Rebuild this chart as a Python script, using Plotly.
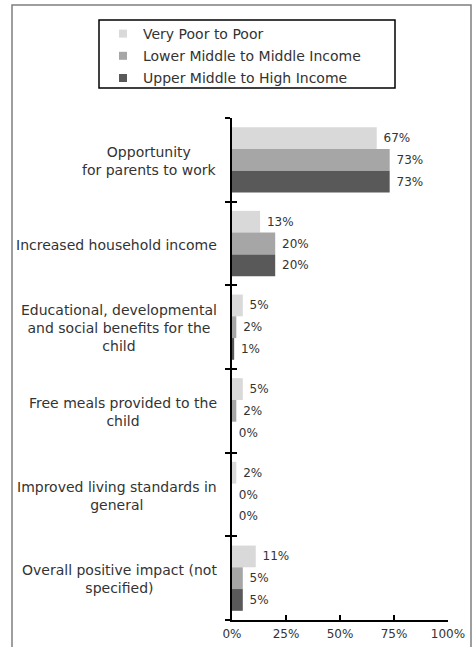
import plotly.graph_objects as go

categories = [
    "Opportunity<br>for parents to work",
    "Increased household income",
    "Educational, developmental<br>and social benefits for the<br>child",
    "Free meals provided to the<br>child",
    "Improved living standards in<br>general",
    "Overall positive impact (not<br>specified)",
]
series_names = ["Very Poor to Poor", "Lower Middle to Middle Income", "Upper Middle to High Income"]
very_poor = [0.67, 0.13, 0.05, 0.05, 0.02, 0.11]
lower_middle = [0.73, 0.20, 0.02, 0.02, 0.00, 0.05]
upper_middle = [0.73, 0.20, 0.01, 0.00, 0.00, 0.05]
x_ticks = [0, 0.25, 0.5, 0.75, 1.0]
x_tick_labels = ["0%", "25%", "50%", "75%", "100%"]

colors = ["#d9d9d9", "#a6a6a6", "#595959"]
FONT = "DejaVu Sans"
TXT = "#333333"

W, H = 475, 647
L, R, T, B = 232, 27, 118, 27
pw, ph = W - L - R, H - T - B

def px_x(p):
    return (p - L) / pw

def px_y(p):
    return (H - B - p) / ph

cat_ids = list(range(len(categories)))

fig = go.Figure()
for name, vals, col in zip(series_names, [very_poor, lower_middle, upper_middle], colors):
    fig.add_trace(go.Bar(
        y=cat_ids, x=vals, orientation="h", name=name,
        marker=dict(color=col, line=dict(width=0)),
        texttemplate=" %{x:.0%}", textposition="outside",
        textfont=dict(family=FONT, size=12, color=TXT),
        cliponaxis=False, showlegend=False,
    ))
    # legend entry with a small square swatch
    fig.add_trace(go.Scatter(
        x=[None], y=[None], mode="markers", name=name,
        marker=dict(symbol="square", size=8, color=col),
        legendgroup=name, showlegend=True, yaxis="y2",
    ))

for i, c in enumerate(categories):
    fig.add_annotation(
        x=0, xref="paper", y=i, yref="y", text=c, showarrow=False,
        xanchor="right", align="center", xshift=-13, yshift=-1,
        font=dict(family=FONT, size=14, color=TXT),
    )

shapes = [
    dict(type="rect", xref="paper", yref="paper",
         x0=px_x(12), x1=px_x(471), y0=px_y(670), y1=px_y(5),
         line=dict(color="#7f7f7f", width=1.5), fillcolor="rgba(0,0,0,0)", layer="below"),
    dict(type="rect", xref="paper", yref="paper",
         x0=px_x(99), x1=px_x(395), y0=px_y(88), y1=px_y(20),
         line=dict(color="#000000", width=1.5), fillcolor="rgba(0,0,0,0)", layer="below"),
]

n = len(categories)
fig.update_layout(
    template="none",
    width=W, height=H,
    margin=dict(l=L, r=R, t=T, b=B, autoexpand=False),
    paper_bgcolor="white", plot_bgcolor="white",
    barmode="group", bargap=0.22, bargroupgap=0,
    font=dict(family=FONT, size=12, color=TXT),
    shapes=shapes,
    showlegend=True,
    legend=dict(
        x=px_x(103), xanchor="left", y=px_y(18), yanchor="top",
        bgcolor="rgba(0,0,0,0)", borderwidth=0,
        font=dict(family=FONT, size=14, color=TXT),
        traceorder="grouped", tracegroupgap=1, itemwidth=30,
    ),
    xaxis=dict(
        range=[0, 1], tickvals=x_ticks, ticktext=x_tick_labels, automargin=False,
        showgrid=False, zeroline=False, showline=True, linecolor="black", linewidth=2,
        ticks="inside", ticklen=5, tickwidth=1.5, tickcolor="black",
        ticklabelstandoff=2,
        tickfont=dict(family=FONT, size=12, color=TXT), fixedrange=True,
    ),
    yaxis=dict(
        type="linear", range=[n - 0.5, -0.5], automargin=False,
        tickvals=[i - 0.5 for i in range(n + 1)], showticklabels=False,
        showgrid=False, zeroline=False, showline=True, linecolor="black", linewidth=2,
        ticks="outside", ticklen=5, tickwidth=1.5, tickcolor="black",
    ),
    yaxis2=dict(
        type="linear", range=[n - 0.5, -0.5], overlaying="y", side="left", automargin=False,
        tickvals=[i - 0.5 for i in range(n + 1)], showticklabels=False,
        showgrid=False, zeroline=False, showline=False,
        ticks="inside", ticklen=5, tickwidth=1.5, tickcolor="black",
    ),
)

fig.write_html("out.html")
